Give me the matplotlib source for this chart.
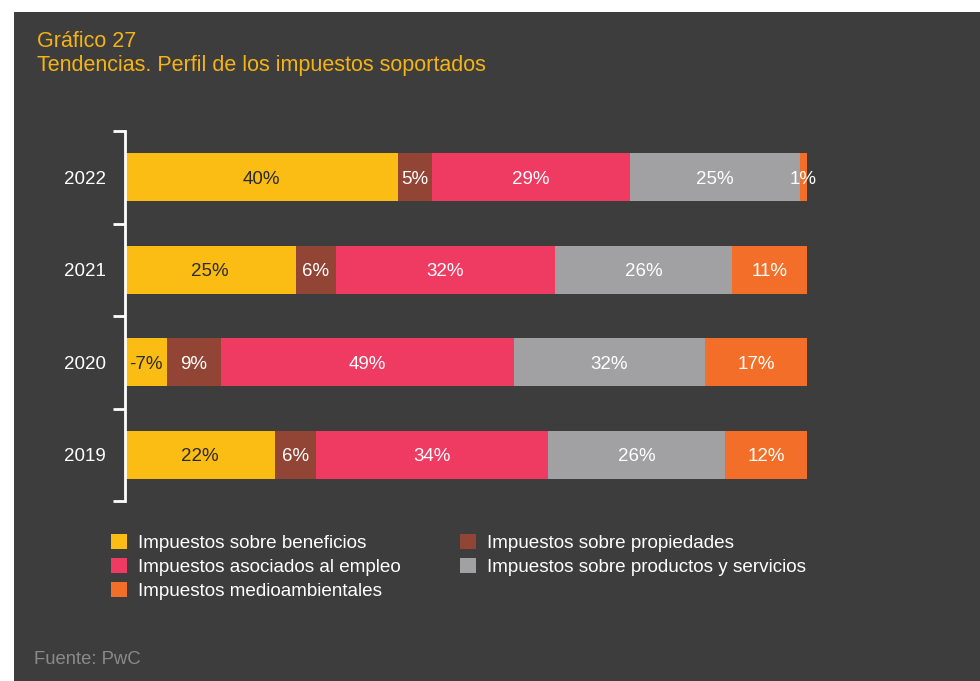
import numpy as np
import matplotlib.pyplot as plt
from matplotlib.patches import Rectangle, Patch

plt.rcParams['font.family'] = ['Liberation Sans', 'DejaVu Sans']

# datos
anios = ['2022', '2021', '2020', '2019']
categorias = ['Impuestos sobre beneficios', 'Impuestos sobre propiedades',
              'Impuestos asociados al empleo', 'Impuestos sobre productos y servicios',
              'Impuestos medioambientales']
beneficios = [40, 25, -7, 22]
propiedades = [5, 6, 9, 6]
empleo = [29, 32, 49, 34]
productos = [25, 26, 32, 26]
medioambientales = [1, 11, 17, 12]

colores = ['#FBBD13', '#934535', '#EF3A61', '#A1A1A4', '#F36F29']
color_texto = ['#2b2b2b', 'white', 'white', 'white', 'white']
fondo = '#3d3d3d'

series = np.array([beneficios, propiedades, empleo, productos, medioambientales], dtype=float)
# cada barra ocupa el 100% usando el valor absoluto de cada componente
anchos = np.abs(series) / np.abs(series).sum(axis=0) * 100

fig = plt.figure(figsize=(9.8, 6.81), dpi=100, facecolor='white')
fig.patches.append(Rectangle((14 / 980, 0), 1, 1 - 12 / 681, transform=fig.transFigure,
                             facecolor=fondo, edgecolor='none', zorder=-10))

ax = fig.add_axes([125 / 980, 1 - 501 / 681, 682 / 980, 370 / 681])
ax.set_facecolor('none')

y = np.arange(len(anios))
izq = np.zeros(len(anios))
for i in range(len(categorias)):
    ax.barh(y, anchos[i], left=izq, height=0.52, color=colores[i], label=categorias[i])
    for j in range(len(anios)):
        ax.text(izq[j] + anchos[i][j] / 2, y[j], f'{int(series[i][j])}%',
                ha='center', va='center_baseline', fontsize=13.5, color=color_texto[i])
    izq += anchos[i]

ax.set_xlim(0, 100)
ax.set_ylim(len(anios) - 0.5, -0.5)
ax.set_yticks(y)
ax.set_yticklabels(anios, fontsize=13.5, color='white', va='center_baseline')
ax.set_yticks(np.arange(-0.5, len(anios)), minor=True)
ax.tick_params(axis='y', which='major', length=0, pad=14)
ax.tick_params(axis='y', which='minor', length=9, width=2, color='white')
ax.set_xticks([])
for s in ['top', 'right', 'bottom']:
    ax.spines[s].set_visible(False)
ax.spines['left'].set_color('white')
ax.spines['left'].set_linewidth(2)

# leyenda
orden = [0, 2, 4, 1, 3]
handles = [Patch(facecolor=colores[k], edgecolor='none') for k in orden]
labels = [categorias[k] for k in orden]
fig.legend(handles, labels, loc='upper left', bbox_to_anchor=(96 / 980, 1 - 519 / 681),
           ncol=2, frameon=False, fontsize=13.6, labelcolor='white',
           handlelength=0.85, handleheight=0.85, handletextpad=0.6,
           columnspacing=3.1, labelspacing=0.3, borderpad=0.3)

fig.text(37 / 980, 1 - 31 / 681, 'Gráfico 27', color='#F5B415', fontsize=15.5, va='top')
fig.text(37 / 980, 1 - 55 / 681, 'Tendencias. Perfil de los impuestos soportados',
         color='#F5B415', fontsize=15.5, va='top')
fig.text(34 / 980, 1 - 660 / 681, 'Fuente: PwC', color='#8a8a8a', fontsize=13.3, va='center')

fig.savefig('out.png', dpi=100, facecolor=fig.get_facecolor())
